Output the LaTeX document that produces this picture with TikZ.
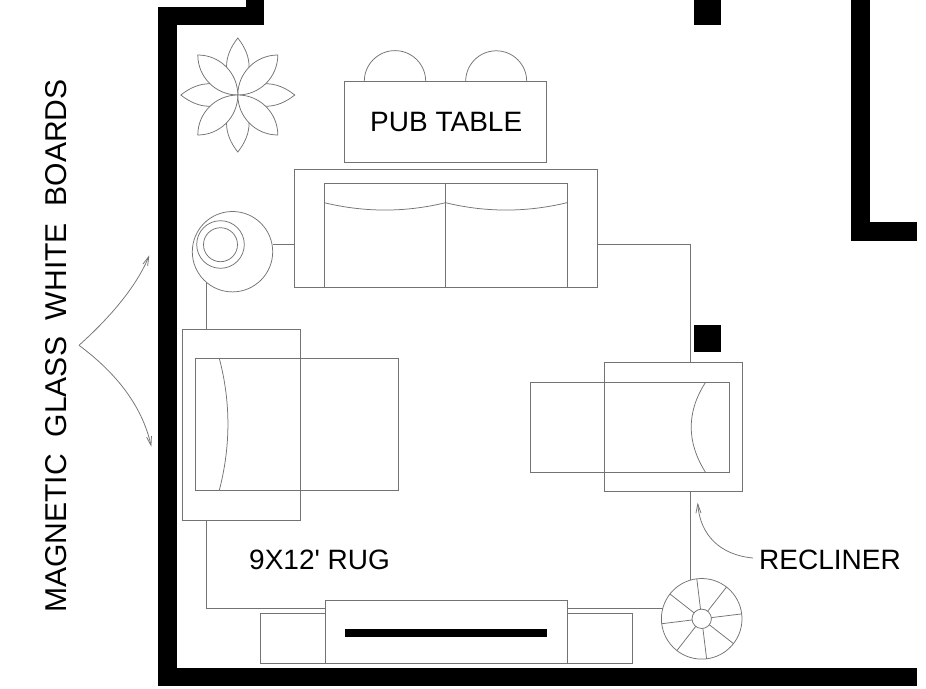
\documentclass[tikz,border=0pt]{standalone}
\usepackage{fontspec}
\usetikzlibrary{arrows.meta,calc}
\newfontfamily\labfont{Liberation Sans}
\definecolor{linegray}{gray}{0.45}
\tikzset{
  plan/.style={draw=linegray,line width=0.75pt,line join=miter},
  wall/.style={fill=black,draw=none},
  lab/.style={font=\labfont\fontsize{28}{30}\selectfont,text=black,inner sep=0pt,anchor=base west},
  biglab/.style={lab,font=\labfont\fontsize{30.1}{32}\selectfont},
  pointer/.style={plan,-{Straight Barb[length=9pt,width=5pt]}}
}
\begin{document}
\begin{tikzpicture}[x=1pt,y=-1pt]
\useasboundingbox (0,0) rectangle (926,688);
\fill[white] (0,0) rectangle (926,688);
% walls
\fill[wall] (246,0) rectangle (264,25);
\fill[wall] (158,7) rectangle (264,25);
\fill[wall] (158,7) rectangle (177,686);
\fill[wall] (158,668) rectangle (917,686);
\fill[wall] (851,0) rectangle (869.5,240.5);
\fill[wall] (851,222) rectangle (917,240.5);
\fill[wall] (693.5,0) rectangle (721,24.5);
\fill[wall] (693.5,325) rectangle (721,352);
% rug
\draw[plan] (206.7,282.5) -- (206.7,329);
\draw[plan] (206.7,520.3) -- (206.7,608.3) -- (325,608.3);
\draw[plan] (567,608.3) -- (662.8,608.3);
\draw[plan] (690.7,580) -- (690.7,491.7);
\draw[plan] (690.7,362) -- (690.7,244.3) -- (597,244.3);
\draw[plan] (272.7,244.3) -- (294.3,244.3);
% plant
\foreach \a in {0,90,180,270}{
  \begin{scope}[shift={(237.8,95)},rotate=\a]
    \draw[plan] (0,0) .. controls (15,-19) and (15,-38) .. (0,-57)
       .. controls (-15,-38) and (-15,-19) .. (0,0);
  \end{scope}
}
\foreach \a in {0,90,180,270}{
  \begin{scope}[shift={(237.8,95)},rotate=\a]
    \filldraw[plan,fill=white] (0,0) .. controls (22.1,0) and (40,-17.9) .. (40,-40)
       .. controls (17.9,-40) and (0,-22.1) .. (0,0);
  \end{scope}
}
% pub table
\draw[plan] (364.3,81.3) arc[start angle=180,end angle=360,radius=30.7];
\draw[plan] (465.7,81.3) arc[start angle=180,end angle=360,radius=30.5];
\draw[plan] (344.7,81.3) rectangle (546.3,162.3);
\node[lab] (pub) at (370,131.7) {PUB TABLE};
% sofa
\draw[plan] (294.3,169.3) rectangle (597,287.3);
\draw[plan] (324.3,183) rectangle (567,287.3);
\draw[plan] (445.5,183) -- (445.5,287.3);
\draw[plan] (324.3,202.7) .. controls (365,212.5) and (405,212.5) .. (445.5,202.7)
   .. controls (486,212.5) and (526,212.5) .. (567,202.7);
% round side table
\draw[plan] (232.5,251.7) circle[radius=40.2];
\draw[plan] (220.5,244.5) circle[radius=23.8];
\draw[plan] (220.5,244.7) circle[radius=17];
% left chair
\draw[plan] (182.3,329) rectangle (300.7,520.3);
\draw[plan] (195.7,358.3) rectangle (398,490.3);
\draw[plan] (219.3,358.3) .. controls (230.8,402) and (230.8,446) .. (219.3,490.3);
% right chair
\draw[plan] (604.3,362) rectangle (742.7,491.7);
\draw[plan] (530.7,382.7) rectangle (729.7,472);
\draw[plan] (705.3,382.7) .. controls (686.5,412) and (686.5,442) .. (705.3,472);
% console
\draw[plan] (260.3,613.3) rectangle (632,663.3);
\filldraw[plan,fill=white] (325,600.3) rectangle (567,663.3);
\fill[wall] (344.7,629.3) rectangle (547,637);
% wheel table
\draw[plan] (701.7,618.8) circle[radius=40.3];
\draw[plan] (701.7,618.8) circle[radius=9.7];
\foreach \a in {7,52,...,322}{
  \draw[plan] ($(701.7,618.8)+(\a:9.7pt)$) -- ($(701.7,618.8)+(\a:40.3pt)$);
}
% pointers
\coordinate (apex) at (79,345.3);
\coordinate (glassup) at (149.3,255.3);
\coordinate (glassdown) at (151.3,446.7);
\coordinate (reclstart) at (753,558);
\coordinate (recltip) at (697.7,502.7);
\draw[pointer] (apex) .. controls (105,322) and (135,290) .. (glassup);
\draw[pointer] (apex) .. controls (115,372) and (142,405) .. (glassdown);
\draw[pointer] (reclstart) .. controls (720,555) and (700,535) .. (recltip);
% labels
\node[lab] (rug) at (249,569.3) {9X12' RUG};
\node[lab] (recliner) at (759,569.3) {RECLINER};
\node[biglab,rotate=90] (glass) at (66,613) {MAGNETIC\hspace{0.278em} GLASS\hspace{0.278em} WHITE\hspace{0.278em} BOARDS};
\end{tikzpicture}
\end{document}
